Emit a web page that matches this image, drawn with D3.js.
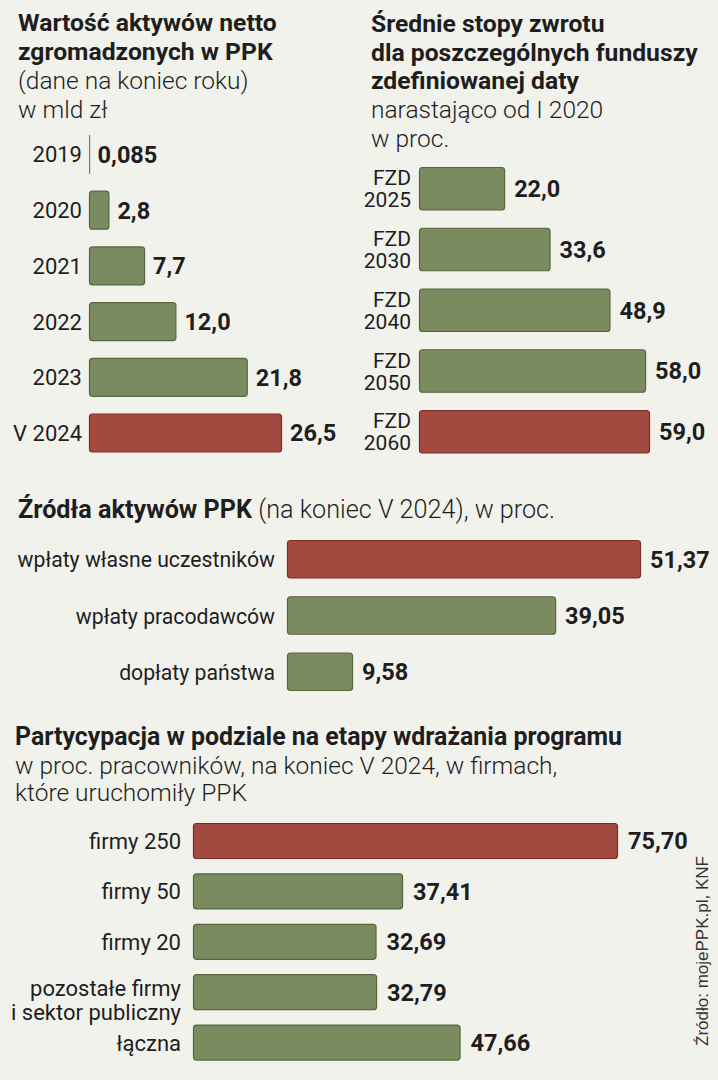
<!DOCTYPE html>
<html>
<head>
<meta charset="utf-8">
<script src="https://cdn.jsdelivr.net/npm/d3@7"></script>
<style>
  html, body { margin: 0; padding: 0; background: #f2f2ed; }
  svg { display: block; }
</style>
</head>
<body>
<svg id="chart" width="718" height="1080"></svg>
<script>
// ---------- DATA ----------
const p1Title = ["Wartość aktywów netto", "zgromadzonych w PPK"];
const p1Subtitle = ["(dane na koniec roku)", "w mld zł"];
const p1Categories = ["2019", "2020", "2021", "2022", "2023", "V 2024"];
const p1Values = [0.085, 2.8, 7.7, 12.0, 21.8, 26.5];

const p2Title = ["Średnie stopy zwrotu", "dla poszczególnych funduszy", "zdefiniowanej daty"];
const p2Subtitle = ["narastająco od I 2020", "w proc."];
const p2Categories = [["FZD", "2025"], ["FZD", "2030"], ["FZD", "2040"], ["FZD", "2050"], ["FZD", "2060"]];
const p2Values = [22.0, 33.6, 48.9, 58.0, 59.0];

const p3TitleBold = "Źródła aktywów PPK";
const p3TitleLight = " (na koniec V 2024), w proc.";
const p3Categories = ["wpłaty własne uczestników", "wpłaty pracodawców", "dopłaty państwa"];
const p3Values = [51.37, 39.05, 9.58];

const p4Title = "Partycypacja w podziale na etapy wdrażania programu";
const p4Subtitle = ["w proc. pracowników, na koniec V 2024, w firmach,", "które uruchomiły PPK"];
const p4Categories = [["firmy 250"], ["firmy 50"], ["firmy 20"], ["pozostałe firmy", "i sektor publiczny"], ["łączna"]];
const p4Values = [75.70, 37.41, 32.69, 32.79, 47.66];

const sourceText = "Źródło: mojePPK.pl, KNF";

// ---------- STYLE ----------
const GREEN = "#7a8b5f", GREEN_STROKE = "#56673f";
const RED = "#a24a40", RED_STROKE = "#7c2a24";
const INK = "#1e1e1e";
const SANS = "Roboto, 'Noto Sans', 'DejaVu Sans', sans-serif";

const pl = d3.formatLocale({ decimal: ",", thousands: " ", grouping: [3], currency: ["", " zł"] });

const svg = d3.select("#chart");
svg.append("rect").attr("width", 718).attr("height", 1080).attr("fill", "#f2f2ed");

function titleLines(g, lines, x, y0, step, weight, size) {
  g.selectAll(null).data(lines).join("text")
    .attr("x", x).attr("y", (d, i) => y0 + i * step)
    .attr("font-family", SANS).attr("font-weight", weight)
    .attr("font-size", size).attr("fill", INK)
    .text(d => d);
}

function panel(opts) {
  const g = svg.append("g");
  const x = d3.scaleLinear().domain([0, d3.max(opts.values)]).range([opts.x0, opts.x1]);
  const y = d3.scaleBand().domain(d3.range(opts.values.length))
    .range([opts.y0, opts.y1]).paddingInner(opts.pad).paddingOuter(0);
  const hi = opts.highlight;
  const rows = g.selectAll("g.row").data(opts.values).join("g").attr("class", "row");
  rows.append("rect")
    .attr("x", opts.x0 + 0.5)
    .attr("y", (d, i) => y(i) + 0.5)
    .attr("width", d => Math.max(0.3, x(d) - opts.x0 - 1))
    .attr("height", y.bandwidth() - 1)
    .attr("rx", d => (x(d) - opts.x0 < 2) ? 0 : 3)
    .attr("fill", (d, i) => i === hi ? RED : GREEN)
    .attr("stroke", (d, i) => (x(d) - opts.x0 < 2) ? "#77776f" : (i === hi ? RED_STROKE : GREEN_STROKE))
    .attr("stroke-width", d => (x(d) - opts.x0 < 2) ? 0.8 : 1.2);
  rows.append("text")
    .attr("x", d => Math.max(x(d), opts.x0) + opts.valGap)
    .attr("y", (d, i) => y(i) + y.bandwidth() / 2 + opts.valSize * 0.36)
    .attr("font-family", SANS).attr("font-weight", 700)
    .attr("font-size", opts.valSize).attr("fill", INK)
    .text(d => opts.fmt(d));
  rows.each(function (d, i) {
    const lbl = opts.categories[i];
    const lines = Array.isArray(lbl) ? lbl : [lbl];
    const c = y(i) + y.bandwidth() / 2;
    const offs = opts.lineOffsets(lines.length, i);
    d3.select(this).selectAll("text.cat").data(lines).join("text")
      .attr("class", "cat")
      .attr("x", opts.labelX)
      .attr("y", (t, k) => c + offs[k])
      .attr("text-anchor", "end")
      .attr("font-family", SANS).attr("font-weight", 400)
      .attr("font-size", opts.labelSize).attr("fill", INK)
      .text(t => t);
  });
  return g;
}

// ---------- PANEL 1 ----------
{
  const g = svg.append("g");
  titleLines(g, p1Title, 18, 31, 29, 700, 24.7);
  titleLines(g, p1Subtitle, 18, 89, 28.5, 300, 24.5);
  panel({
    values: p1Values, categories: p1Categories, highlight: 5,
    x0: 89, x1: 282, y0: 135, y1: 452.5, pad: 0.3,
    valGap: 8, valSize: 23.5, fmt: v => v < 1 ? pl.format(".3f")(v) : pl.format(".1f")(v),
    labelX: 82, labelSize: 22,
    lineOffsets: () => [8]
  });
}

// ---------- PANEL 2 ----------
{
  const g = svg.append("g");
  titleLines(g, p2Title, 371, 32, 28.5, 700, 24.7);
  titleLines(g, p2Subtitle, 371, 118, 29, 300, 24.5);
  panel({
    values: p2Values, categories: p2Categories, highlight: 4,
    x0: 419, x1: 650, y0: 167, y1: 453.5, pad: 0.284,
    valGap: 9, valSize: 23.5, fmt: v => pl.format(".1f")(v),
    labelX: 411, labelSize: 21,
    lineOffsets: () => [-3.5, 18.5]
  });
}

// ---------- PANEL 3 ----------
{
  const g = svg.append("g");
  const t = g.append("text").attr("x", 18).attr("y", 518)
    .attr("font-family", SANS).attr("font-size", 25.2).attr("fill", INK);
  t.append("tspan").attr("font-weight", 700).text(p3TitleBold);
  t.append("tspan").attr("font-weight", 300).text(p3TitleLight);
  panel({
    values: p3Values, categories: p3Categories, highlight: 0,
    x0: 287, x1: 641, y0: 540, y1: 691, pad: 0.316,
    valGap: 9, valSize: 23.5, fmt: v => pl.format(".2f")(v),
    labelX: 275, labelSize: 21.2,
    lineOffsets: () => [8]
  });
}

// ---------- PANEL 4 ----------
{
  const g = svg.append("g");
  g.append("text").attr("x", 15).attr("y", 745)
    .attr("font-family", SANS).attr("font-weight", 700).attr("font-size", 24.9)
    .attr("fill", INK).text(p4Title);
  titleLines(g, p4Subtitle, 15, 774, 27, 300, 24.5);
  panel({
    values: p4Values, categories: p4Categories, highlight: 0,
    x0: 193, x1: 618, y0: 823, y1: 1060.6, pad: 0.286,
    valGap: 10, valSize: 23.5, fmt: v => pl.format(".2f")(v),
    labelX: 181, labelSize: 22,
    lineOffsets: (n) => n === 2 ? [4, 28] : [8]
  });
  g.append("text")
    .attr("transform", "translate(708,1046) rotate(-90)")
    .attr("font-family", "'Liberation Sans', Arial, sans-serif")
    .attr("font-size", 17).attr("fill", "#333")
    .text(sourceText);
}
</script>
</body>
</html>
